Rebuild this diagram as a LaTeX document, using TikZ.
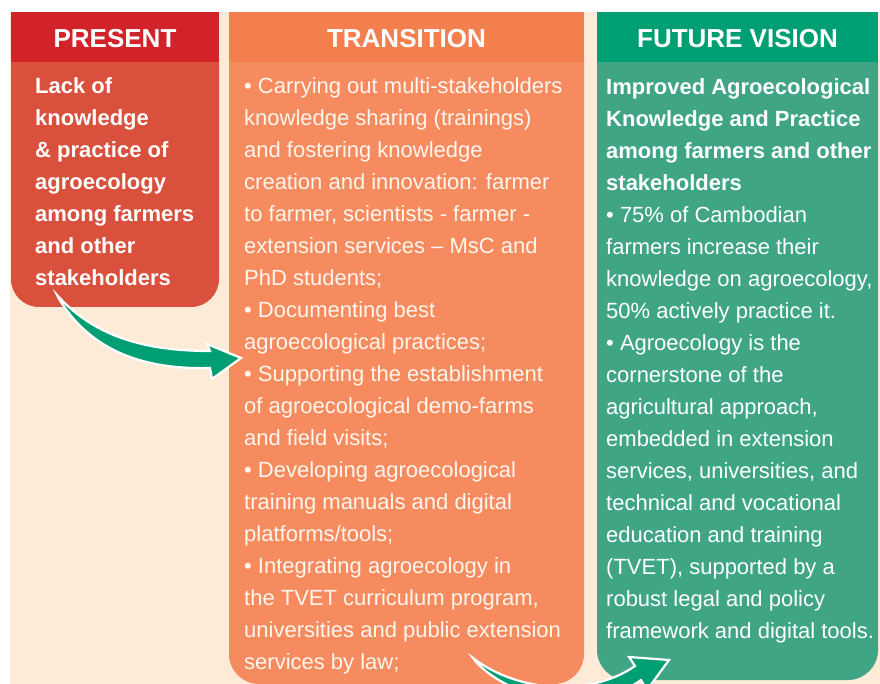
\documentclass[tikz,border=0pt]{standalone}
\usepackage{fontspec}
\setmainfont{Liberation Sans}
\definecolor{redhead}{HTML}{D2232A}
\definecolor{redbody}{HTML}{D9503D}
\definecolor{orhead}{HTML}{F37F4F}
\definecolor{orbody}{HTML}{F68B60}
\definecolor{grhead}{HTML}{009E73}
\definecolor{grbody}{HTML}{3FA584}
\definecolor{beige}{HTML}{FDEBD8}
\definecolor{arrowgreen}{HTML}{009E73}
\definecolor{cream}{HTML}{FFF6EE}
\tikzset{
  header/.style={font=\fontsize{26}{30}\selectfont\bfseries, text=white, inner sep=0pt, anchor=base},
  bodytext/.style={font=\fontsize{22}{32}\selectfont, text=white, align=left, inner sep=0pt, anchor=north west},
  boldtext/.style={bodytext, font=\fontsize{22}{32}\selectfont\bfseries},
  bigarrow/.style={fill=arrowgreen, draw=white, line width=2.2pt, line join=miter},
}
\begin{document}
\begin{tikzpicture}[x=1pt,y=-1pt]
\useasboundingbox (0,0) rectangle (880,684);
\clip (0,0) rectangle (880,684);
% background
\fill[beige] (10,12) rectangle (880,684);
% bodies
\fill[redbody, rounded corners=28] (11,30) rectangle (219,307);
\fill[orbody, rounded corners=30] (229,30) rectangle (584,684);
\fill[grbody, rounded corners=30] (597,30) rectangle (878,680);
% headers
\fill[redhead] (11,12) rectangle (219,62);
\fill[orhead] (229,12) rectangle (584,62);
\fill[grhead] (597,12) rectangle (878,62);
\node[header] (hpresent) at (115,47.5) {PRESENT};
\node[header] (htrans) at (406.5,47.5) {TRANSITION};
\node[header] (hfuture) at (737.5,47.5) {FUTURE VISION};
% texts
\node[boldtext] (present) at (35,70.6) {\strut Lack of\\knowledge\\\& practice of\\agroecology\\among farmers\\and other\\stakeholders};
\node[bodytext, text=cream] (trans) at (244,70.6) {\strut • Carrying out multi-stakeholders\\knowledge sharing (trainings)\\and fostering knowledge\\creation and innovation: farmer\\to farmer, scientists - farmer -\\extension services – MsC and\\PhD students;\\• Documenting best\\agroecological practices;\\• Supporting the establishment\\of agroecological demo-farms\\and field visits;\\• Developing agroecological\\training manuals and digital\\platforms/tools;\\• Integrating agroecology in\\the TVET curriculum program,\\universities and public extension\\services by law;};
\node[boldtext] (futhead) at (606,71.6) {\strut Improved Agroecological\\Knowledge and Practice\\among farmers and other\\stakeholders};
\node[bodytext] (future) at (606,199.6) {\strut • 75\% of Cambodian\\farmers increase their\\knowledge on agroecology,\\50\% actively practice it.\\• Agroecology is the\\cornerstone of the\\agricultural approach,\\embedded in extension\\services, universities, and\\technical and vocational\\education and training\\(TVET), supported by a\\robust legal and policy\\framework and digital tools.};
% arrow 1: present -> transition
\draw[bigarrow] (57,295) .. controls (92,334) and (140,351) .. (210,351)
  -- (207,344) -- (241,358) -- (212,379) -- (210,368)
  .. controls (136,370) and (88,346) .. (59,299) -- cycle;
% arrow 2: transition -> future
\draw[bigarrow] (473,658) .. controls (520,694) and (592,696) .. (635,666)
  -- (629,657) -- (669,660) -- (647,690) -- (641,680)
  .. controls (596,712) and (516,704) .. (476,662) -- cycle;
\end{tikzpicture}
\end{document}
